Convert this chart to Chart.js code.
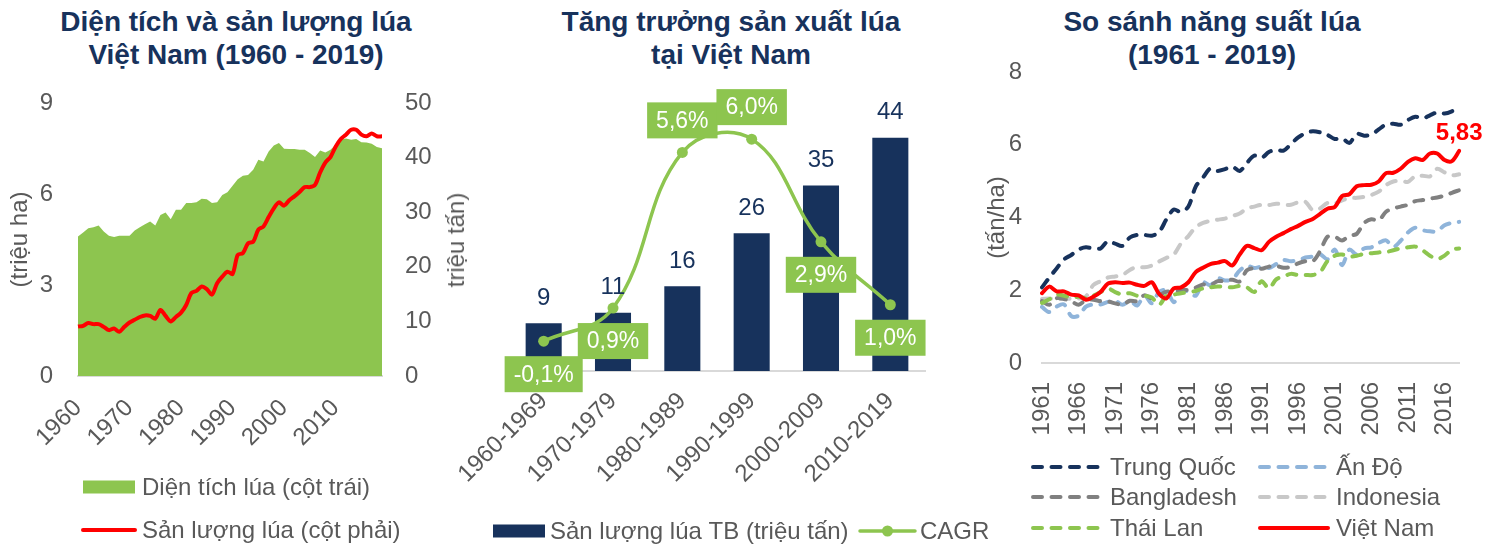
<!DOCTYPE html>
<html lang="vi">
<head>
<meta charset="utf-8">
<title>Lúa Việt Nam</title>
<script src="https://cdn.jsdelivr.net/npm/chart.js@4.4.1/dist/chart.umd.min.js"></script>
<style>
  html, body { margin: 0; padding: 0; background: #fff; }
  body { width: 1491px; height: 544px; position: relative; overflow: hidden;
         font-family: 'Liberation Sans', Arial, sans-serif; }
  canvas { position: absolute; top: 0; }
  .title { position: absolute; top: 5px; width: 480px; margin-left: -240px; text-align: center;
           font-weight: bold; font-size: 28px; line-height: 33px; color: #17325c; }
  .rot { position: absolute; font-size: 24px; color: #595959; white-space: nowrap;
         transform: translate(-50%, -50%) rotate(-90deg); }
</style>
</head>
<body>
<div class="title" style="left:236px">Diện tích và sản lượng lúa<br>Việt Nam (1960 - 2019)</div>
<div class="title" style="left:731px">Tăng trưởng sản xuất lúa<br>tại Việt Nam</div>
<div class="title" style="left:1212px">So sánh năng suất lúa<br>(1961 - 2019)</div>
<canvas id="c1" width="472" height="544" style="left:0"></canvas>
<canvas id="c2" width="550" height="544" style="left:440px"></canvas>
<canvas id="c3" width="532" height="544" style="left:975px"></canvas>
<div class="rot" style="left:456px; top:240px">triệu tấn)</div>
<script>
// --- biểu đồ 1: diện tích (triệu ha) và sản lượng (triệu tấn), 1960 - 2019
const years1 = [1960, 1961, 1962, 1963, 1964, 1965, 1966, 1967, 1968, 1969,
  1970, 1971, 1972, 1973, 1974, 1975, 1976, 1977, 1978, 1979,
  1980, 1981, 1982, 1983, 1984, 1985, 1986, 1987, 1988, 1989,
  1990, 1991, 1992, 1993, 1994, 1995, 1996, 1997, 1998, 1999,
  2000, 2001, 2002, 2003, 2004, 2005, 2006, 2007, 2008, 2009,
  2010, 2011, 2012, 2013, 2014, 2015, 2016, 2017, 2018, 2019];
const riceArea = [4.6, 4.73, 4.87, 4.9, 4.96, 4.76, 4.62, 4.58, 4.62, 4.62,
  4.62, 4.8, 4.9, 5.0, 5.09, 4.96, 5.31, 5.39, 5.17, 5.48,
  5.48, 5.7, 5.7, 5.73, 5.84, 5.83, 5.7, 5.73, 5.97, 6.06,
  6.27, 6.49, 6.6, 6.63, 6.8, 7.13, 7.07, 7.4, 7.6, 7.68,
  7.49, 7.48, 7.48, 7.46, 7.46, 7.35, 7.22, 7.43, 7.37, 7.46,
  7.62, 7.79, 7.83, 7.79, 7.81, 7.71, 7.7, 7.66, 7.55, 7.51];
const riceOutput = [9.05, 9.2, 9.7, 9.5, 9.5, 9.0, 8.4, 8.7, 8.1, 9.0,
  9.8, 10.3, 10.8, 11.1, 11.0, 10.5, 12.1, 11.0, 10.0, 10.8,
  11.6, 13.0, 15.2, 15.6, 16.4, 15.9, 14.9, 17.0, 18.2, 19.1,
  18.7, 22.2, 22.5, 24.3, 24.6, 26.8, 27.4, 29.1, 30.7, 31.8,
  31.2, 32.2, 32.9, 33.7, 34.6, 34.6, 35.0, 37.3, 39.1, 40.1,
  42.0, 43.4, 44.2, 45.1, 45.1, 44.2, 43.9, 44.4, 43.9, 43.9];

// --- biểu đồ 2: sản lượng bình quân theo thập kỷ và CAGR (%)
const decades = ['1960-1969', '1970-1979', '1980-1989', '1990-1999', '2000-2009', '2010-2019'];
const avgOutput = [9, 11, 16, 26, 35, 44];
const cagr = [-0.1, 0.9, 5.6, 6.0, 2.9, 1.0];

// --- biểu đồ 3: năng suất (tấn/ha), 1961 - 2018
const years3 = [1961, 1962, 1963, 1964, 1965, 1966, 1967, 1968, 1969,
  1970, 1971, 1972, 1973, 1974, 1975, 1976, 1977, 1978, 1979,
  1980, 1981, 1982, 1983, 1984, 1985, 1986, 1987, 1988, 1989,
  1990, 1991, 1992, 1993, 1994, 1995, 1996, 1997, 1998, 1999,
  2000, 2001, 2002, 2003, 2004, 2005, 2006, 2007, 2008, 2009,
  2010, 2011, 2012, 2013, 2014, 2015, 2016, 2017, 2018];
const yieldChina = [2.08, 2.35, 2.6, 2.85, 2.97, 3.12, 3.18, 3.15, 3.15, 3.35,
  3.28, 3.22, 3.45, 3.52, 3.52, 3.5, 3.6, 3.95, 4.22, 4.15,
  4.3, 4.85, 5.1, 5.35, 5.28, 5.33, 5.4, 5.28, 5.5, 5.7,
  5.64, 5.8, 5.86, 5.84, 6.02, 6.2, 6.32, 6.37, 6.34, 6.27,
  6.16, 6.18, 6.05, 6.3, 6.25, 6.28, 6.42, 6.56, 6.58, 6.55,
  6.68, 6.77, 6.72, 6.81, 6.89, 6.86, 6.92, 7.03];
const yieldIndia = [1.54, 1.4, 1.55, 1.61, 1.29, 1.3, 1.55, 1.61, 1.61, 1.68,
  1.71, 1.6, 1.71, 1.58, 1.86, 1.64, 1.95, 2.0, 1.67, 2.0,
  1.96, 1.85, 2.22, 2.14, 2.33, 2.27, 2.3, 2.54, 2.68, 2.61,
  2.65, 2.61, 2.72, 2.83, 2.8, 2.82, 2.9, 2.93, 2.99, 2.85,
  3.12, 2.69, 3.12, 2.98, 3.15, 3.18, 3.3, 3.37, 3.19, 3.36,
  3.59, 3.72, 3.65, 3.62, 3.62, 3.79, 3.85, 3.88];
const yieldBangladesh = [1.7, 1.6, 1.78, 1.76, 1.7, 1.6, 1.73, 1.74, 1.7, 1.69,
  1.64, 1.6, 1.71, 1.7, 1.86, 1.78, 1.86, 1.96, 1.95, 2.01,
  2.01, 2.07, 2.16, 2.14, 2.25, 2.25, 2.29, 2.24, 2.55, 2.61,
  2.59, 2.65, 2.67, 2.62, 2.64, 2.74, 2.8, 2.8, 3.08, 3.47,
  3.47, 3.37, 3.5, 3.55, 3.85, 3.95, 3.92, 4.16, 4.25, 4.3,
  4.35, 4.45, 4.48, 4.52, 4.55, 4.6, 4.68, 4.75];
const yieldIndonesia = [1.76, 1.77, 1.76, 1.76, 1.77, 1.77, 1.83, 2.14, 2.25, 2.35,
  2.38, 2.42, 2.56, 2.64, 2.63, 2.68, 2.79, 2.89, 2.98, 3.29,
  3.49, 3.74, 3.85, 3.91, 3.94, 3.97, 4.04, 4.11, 4.25, 4.3,
  4.35, 4.34, 4.38, 4.35, 4.35, 4.42, 4.43, 4.2, 4.25, 4.4,
  4.39, 4.47, 4.54, 4.54, 4.57, 4.62, 4.71, 4.89, 4.99, 5.01,
  4.98, 5.14, 5.15, 5.13, 5.34, 5.24, 5.16, 5.19];
const yieldThailand = [1.65, 1.75, 1.88, 1.85, 1.8, 1.82, 1.78, 1.85, 1.95, 2.05,
  1.95, 1.88, 1.92, 1.85, 1.85, 1.8, 1.6, 1.85, 1.88, 1.92,
  1.95, 1.98, 2.05, 2.08, 2.1, 2.1, 2.08, 2.12, 2.08, 1.95,
  2.25, 2.05, 2.3, 2.38, 2.45, 2.42, 2.42, 2.42, 2.5, 2.8,
  2.95, 2.98, 2.92, 2.95, 3.0, 3.02, 3.04, 3.05, 3.1, 3.15,
  3.18, 3.2, 3.1, 2.95, 2.86, 2.95, 3.12, 3.15];
const yieldVietnam = [1.92, 2.1, 1.97, 1.97, 1.88, 1.86, 1.74, 1.82, 1.95, 2.18,
  2.22, 2.2, 2.21, 2.15, 2.12, 2.22, 1.9, 1.78, 2.05, 2.08,
  2.22, 2.5, 2.62, 2.72, 2.76, 2.8, 2.68, 2.98, 3.22, 3.16,
  3.1, 3.33, 3.47, 3.57, 3.68, 3.77, 3.88, 3.96, 4.1, 4.24,
  4.29, 4.59, 4.64, 4.86, 4.89, 4.9, 4.99, 5.22, 5.23, 5.34,
  5.53, 5.63, 5.58, 5.76, 5.76, 5.58, 5.55, 5.83];

const NAVY = '#17325c';
const GREEN = '#8dc54f';
const RED = '#ff0000';
const GREY_TEXT = '#595959';
const AXIS_LINE = '#d9d9d9';
const FAMILY = "'Liberation Sans', Arial, sans-serif";
const TICK_FONT = { family: FAMILY, size: 24 };

Chart.defaults.font.family = FAMILY;
Chart.defaults.color = GREY_TEXT;

function fmtComma(v, digits) {
  return v.toFixed(digits).replace('.', ',');
}

// chú thích vẽ tay: mỗi mục lấy nhãn, màu, nét đứt từ dataset
const drawnLegend = {
  id: 'drawnLegend',
  afterDraw(chart, args, opts) {
    const ctx = chart.ctx;
    ctx.save();
    ctx.font = '24px ' + FAMILY;
    ctx.textBaseline = 'middle';
    ctx.textAlign = 'left';
    for (const it of opts.items) {
      const ds = chart.data.datasets[it.index];
      if (it.kind === 'box') {
        ctx.fillStyle = ds.backgroundColor;
        ctx.fillRect(it.x, it.y - 6.5, it.w, 13);
      } else {
        ctx.strokeStyle = ds.borderColor;
        ctx.lineWidth = ds.borderWidth;
        ctx.lineCap = 'round';
        ctx.setLineDash(ds.borderDash || []);
        ctx.beginPath();
        ctx.moveTo(it.x, it.y);
        ctx.lineTo(it.x + it.w, it.y);
        ctx.stroke();
        ctx.setLineDash([]);
        if (it.kind === 'dot') {
          ctx.fillStyle = ds.borderColor;
          ctx.beginPath();
          ctx.arc(it.x + it.w / 2, it.y, 5.5, 0, Math.PI * 2);
          ctx.fill();
        }
      }
      ctx.fillStyle = GREY_TEXT;
      ctx.fillText(ds.label, it.tx, it.y + 1);
    }
    ctx.restore();
  }
};

// nhãn số liệu cho biểu đồ 2
const decadeLabels = {
  id: 'decadeLabels',
  afterDatasetsDraw(chart, args, opts) {
    const ctx = chart.ctx;
    ctx.save();
    ctx.textAlign = 'center';
    ctx.textBaseline = 'middle';
    const bars = chart.getDatasetMeta(1);
    ctx.font = '24px ' + FAMILY;
    ctx.fillStyle = NAVY;
    bars.data.forEach((el, i) => {
      ctx.fillText(String(chart.data.datasets[1].data[i]), el.x, el.y - 25);
    });
    const line = chart.getDatasetMeta(0);
    ctx.font = '23px ' + FAMILY;
    line.data.forEach((el, i) => {
      const txt = fmtComma(chart.data.datasets[0].data[i], 1) + '%';
      const w = ctx.measureText(txt).width + 18;
      const h = 36;
      const top = opts.place[i] === 'above' ? el.y - 14 - h : el.y + 15;
      ctx.fillStyle = GREEN;
      ctx.fillRect(el.x - w / 2, top, w, h);
      ctx.fillStyle = '#ffffff';
      ctx.fillText(txt, el.x, top + h / 2 + 1);
    });
    ctx.restore();
  }
};

// nhãn giá trị cuối của Việt Nam (biểu đồ 3)
const lastValueLabel = {
  id: 'lastValueLabel',
  afterDatasetsDraw(chart, args, opts) {
    const meta = chart.getDatasetMeta(opts.index);
    const data = chart.data.datasets[opts.index].data;
    const el = meta.data[data.length - 1];
    const ctx = chart.ctx;
    ctx.save();
    ctx.font = 'bold 24px ' + FAMILY;
    ctx.fillStyle = RED;
    ctx.textAlign = 'center';
    ctx.textBaseline = 'bottom';
    ctx.fillText(fmtComma(data[data.length - 1], 2), el.x, el.y - 6);
    ctx.restore();
  }
};

const noGrid = { display: false, drawTicks: false };

// ---------- biểu đồ 1
new Chart(document.getElementById('c1'), {
  type: 'line',
  data: {
    labels: years1,
    datasets: [
      { label: 'Sản lượng lúa (cột phải)', data: riceOutput, yAxisID: 'y1',
        borderColor: RED, borderWidth: 4, pointRadius: 0, tension: 0.3, fill: false, order: 0 },
      { label: 'Diện tích lúa (cột trái)', data: riceArea, yAxisID: 'y',
        borderColor: GREEN, backgroundColor: GREEN, borderWidth: 0, pointRadius: 0,
        tension: 0, fill: 'origin', order: 1 }
    ]
  },
  options: {
    responsive: false,
    animation: false,
    layout: { padding: { top: 103, left: 0, right: 0, bottom: 0 } },
    plugins: {
      legend: { display: false },
      tooltip: { enabled: false },
      drawnLegend: { items: [
        { index: 1, kind: 'box', x: 83, y: 487, w: 52, tx: 142 },
        { index: 0, kind: 'line', x: 83, y: 530, w: 52, tx: 142 }
      ] }
    },
    scales: {
      x: {
        grid: noGrid,
        border: { color: AXIS_LINE, width: 2 },
        ticks: {
          autoSkip: false, minRotation: 45, maxRotation: 45, padding: 18,
          font: TICK_FONT, color: GREY_TEXT,
          callback(v, i) { return i % 10 === 0 ? this.getLabelForValue(v) : ''; }
        },
        afterFit(s) { s.height = 168; }
      },
      y: {
        position: 'left', min: 0, max: 9,
        grid: noGrid, border: { display: false },
        ticks: { stepSize: 3, padding: 25, font: TICK_FONT, color: GREY_TEXT },
        title: { display: true, text: '(triệu ha)', font: TICK_FONT, color: GREY_TEXT,
                 padding: { top: 6, bottom: 0 } },
        afterFit(s) { s.width = 78; }
      },
      y1: {
        position: 'right', min: 0, max: 50,
        grid: noGrid, border: { display: false },
        ticks: { stepSize: 10, padding: 23, font: TICK_FONT, color: GREY_TEXT },
        afterFit(s) { s.width = 90; }
      }
    }
  },
  plugins: [drawnLegend]
});

// ---------- biểu đồ 2
new Chart(document.getElementById('c2'), {
  type: 'bar',
  data: {
    labels: decades,
    datasets: [
      { type: 'line', label: 'CAGR', data: cagr, yAxisID: 'y2',
        borderColor: GREEN, backgroundColor: GREEN, borderWidth: 3.5,
        pointRadius: 5.5, pointBackgroundColor: GREEN, pointBorderWidth: 0,
        tension: 0.4, order: 0 },
      { type: 'bar', label: 'Sản lượng lúa TB (triệu tấn)', data: avgOutput, yAxisID: 'y',
        backgroundColor: NAVY, categoryPercentage: 1, barPercentage: 0.52, order: 1 }
    ]
  },
  options: {
    responsive: false,
    animation: false,
    layout: { padding: { top: 106, left: 69, right: 65, bottom: 0 } },
    plugins: {
      legend: { display: false },
      tooltip: { enabled: false },
      decadeLabels: { place: ['below', 'below', 'above', 'above', 'below', 'below'] },
      drawnLegend: { items: [
        { index: 1, kind: 'box', x: 53, y: 531, w: 52, tx: 110 },
        { index: 0, kind: 'dot', x: 420, y: 531, w: 55, tx: 480 }
      ] }
    },
    scales: {
      x: {
        grid: noGrid,
        border: { color: AXIS_LINE, width: 2 },
        ticks: { autoSkip: false, minRotation: 45, maxRotation: 45, padding: 16,
                 font: TICK_FONT, color: GREY_TEXT },
        afterFit(s) { s.height = 173; }
      },
      y: { display: false, min: 0, max: 50 },
      y2: { display: false, min: -1, max: 7 }
    }
  },
  plugins: [decadeLabels, drawnLegend]
});

// ---------- biểu đồ 3
// canvas rộng hơn màn hình một chút: nhãn trục x xoay 90° đòi ~48px bên phải
const dash = [9, 9.5];
new Chart(document.getElementById('c3'), {
  type: 'line',
  data: {
    labels: years3,
    datasets: [
      { label: 'Trung Quốc', data: yieldChina, borderColor: NAVY, borderDash: dash, order: 1 },
      { label: 'Ấn Độ', data: yieldIndia, borderColor: '#8fb4da', borderDash: dash, order: 5 },
      { label: 'Bangladesh', data: yieldBangladesh, borderColor: '#808080', borderDash: dash, order: 3 },
      { label: 'Indonesia', data: yieldIndonesia, borderColor: '#c8c8c8', borderDash: dash, order: 4 },
      { label: 'Thái Lan', data: yieldThailand, borderColor: GREEN, borderDash: dash, order: 2 },
      { label: 'Việt Nam', data: yieldVietnam, borderColor: RED, order: 0 }
    ].map(d => Object.assign({ borderWidth: 4, borderCapStyle: 'round', pointRadius: 0,
                               tension: 0.3, fill: false }, d))
  },
  options: {
    responsive: false,
    animation: false,
    layout: { padding: { top: 72, left: 0, right: 0, bottom: 0 } },
    plugins: {
      legend: { display: false },
      tooltip: { enabled: false },
      lastValueLabel: { index: 5 },
      drawnLegend: { items: [
        { index: 0, kind: 'line', x: 58, y: 467, w: 67, tx: 135 },
        { index: 1, kind: 'line', x: 285, y: 467, w: 68, tx: 361 },
        { index: 2, kind: 'line', x: 58, y: 497, w: 67, tx: 135 },
        { index: 3, kind: 'line', x: 285, y: 497, w: 68, tx: 361 },
        { index: 4, kind: 'line', x: 58, y: 528, w: 67, tx: 135 },
        { index: 5, kind: 'line', x: 285, y: 528, w: 68, tx: 361 }
      ] }
    },
    scales: {
      x: {
        grid: noGrid,
        border: { color: AXIS_LINE, width: 2 },
        ticks: {
          autoSkip: false, minRotation: 90, maxRotation: 90, padding: 19,
          font: TICK_FONT, color: GREY_TEXT,
          callback(v, i) { return i % 5 === 0 ? this.getLabelForValue(v) : ''; }
        },
        afterFit(s) { s.height = 181; }
      },
      y: {
        min: 0, max: 8,
        grid: noGrid, border: { display: false },
        ticks: { stepSize: 2, padding: 20, font: TICK_FONT, color: GREY_TEXT },
        title: { display: true, text: '(tấn/ha)', font: TICK_FONT, color: GREY_TEXT,
                 padding: { top: 8, bottom: 0 } },
        afterFit(s) { s.width = 67; }
      }
    }
  },
  plugins: [lastValueLabel, drawnLegend]
});
</script>
</body>
</html>
